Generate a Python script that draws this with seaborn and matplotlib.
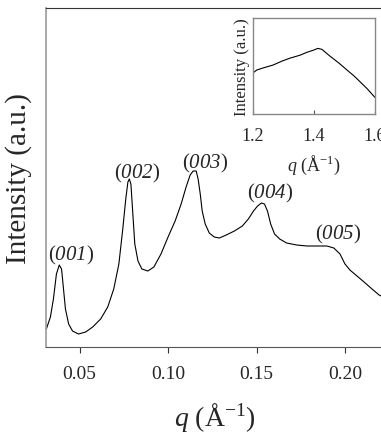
import numpy as np
import pandas as pd
import matplotlib
matplotlib.use("Agg")
import matplotlib.pyplot as plt
import seaborn as sns

# main SAXS pattern (q in 1/Angstrom, intensity in arbitrary units)
q_main = [0.0312, 0.0335, 0.0352, 0.0369, 0.0385, 0.0398, 0.0409, 0.0420, 0.0438,
          0.0460, 0.0494, 0.0534, 0.0574, 0.0619, 0.0659, 0.0693, 0.0722, 0.0744,
          0.0761, 0.0773, 0.0781, 0.0790, 0.0801, 0.0812, 0.0830, 0.0852, 0.0886,
          0.0920, 0.0960, 0.1000, 0.1040, 0.1074, 0.1102, 0.1125, 0.1142, 0.1159,
          0.1170, 0.1182, 0.1193, 0.1210, 0.1233, 0.1261, 0.1290, 0.1329, 0.1375,
          0.1420, 0.1454, 0.1483, 0.1506, 0.1528, 0.1545, 0.1562, 0.1580, 0.1602,
          0.1631, 0.1670, 0.1727, 0.1784, 0.1841, 0.1898, 0.1937, 0.1972, 0.2000,
          0.2028, 0.2068, 0.2108, 0.2153, 0.2193, 0.2216]
i_main = [0.18, 0.30, 0.48, 0.73, 0.82, 0.78, 0.58, 0.38, 0.23,
          0.16, 0.13, 0.15, 0.20, 0.28, 0.40, 0.58, 0.83, 1.18,
          1.48, 1.65, 1.68, 1.63, 1.33, 1.03, 0.86, 0.78, 0.76,
          0.80, 0.93, 1.10, 1.26, 1.43, 1.60, 1.72, 1.76, 1.76,
          1.68, 1.53, 1.36, 1.23, 1.14, 1.10, 1.09, 1.12, 1.16,
          1.21, 1.28, 1.36, 1.41, 1.44, 1.43, 1.36, 1.23, 1.13,
          1.08, 1.04, 1.02, 1.01, 1.01, 1.01, 0.99, 0.93, 0.83,
          0.77, 0.71, 0.65, 0.58, 0.52, 0.50]

# peak labels
peak_names = ["001", "002", "003", "004", "005"]
peak_q = [0.0451, 0.0825, 0.1209, 0.1577, 0.1962]
peak_i = [0.93, 1.75, 1.85, 1.55, 1.14]

# wide-angle inset
q_inset = [1.200, 1.213, 1.233, 1.266, 1.295, 1.321, 1.354, 1.377, 1.397,
           1.413, 1.426, 1.453, 1.482, 1.508, 1.531, 1.551, 1.574, 1.600]
i_inset = [42, 45, 47, 50, 54, 57, 60, 63, 65,
           67, 66, 59, 52, 45, 39, 33, 26, 17]

sns.set_style("ticks")
plt.rcParams["font.family"] = ["Liberation Serif", "DejaVu Serif"]
plt.rcParams["mathtext.fontset"] = "custom"
plt.rcParams["mathtext.rm"] = "Liberation Serif"
plt.rcParams["mathtext.it"] = "Liberation Serif:italic"
# 'sf' slot used for italic digits (mathtext forces digits in \mathit upright)
plt.rcParams["mathtext.sf"] = "Liberation Serif:italic"

fig = plt.figure(figsize=(3.81, 4.35), dpi=100)
ax = fig.add_axes([0.1207, 0.2, 0.885, 0.7793])

main_df = pd.DataFrame({"q": q_main, "I": i_main})
sns.lineplot(data=main_df, x="q", y="I", ax=ax, color="black", lw=0.8)
ax.set_xlim(0.031, 0.2216)
ax.set_ylim(0, 3.39)
ax.set_xticks([0.05, 0.10, 0.15, 0.20])
ax.set_xticklabels(["0.05", "0.10", "0.15", "0.20"])
ax.set_yticks([])
ax.tick_params(axis="x", direction="out", length=4, width=0.8, labelsize=14, pad=9, color="#333333")
ax.spines["right"].set_visible(False)
ax.spines["top"].set_color("#333333")
ax.spines["bottom"].set_color("#555555")
ax.spines["left"].set_color("#999999")
ax.spines["left"].set_linewidth(1.2)
ax.set_xlabel(r"$q$ (Å$^{-1}$)", fontsize=20, labelpad=13)
ax.set_ylabel("Intensity (a.u.)", fontsize=21, labelpad=10)

for name, x, y in zip(peak_names, peak_q, peak_i):
    ax.text(x, y, rf"$(\mathsf{{{name}}})$", fontsize=15, ha="center", va="center")

ins = fig.add_axes([0.664, 0.7356, 0.320, 0.2207])
inset_df = pd.DataFrame({"q": q_inset, "I": i_inset})
sns.lineplot(data=inset_df, x="q", y="I", ax=ins, color="black", lw=0.8)
ins.set_xlim(1.2, 1.6)
ins.set_ylim(0, 98)
ins.set_xticks([1.2, 1.4, 1.6])
ins.set_xticklabels(["1.2", "1.4", "1.6"])
ins.set_yticks([])
ins.tick_params(axis="x", direction="in", length=3, width=0.8, labelsize=13, pad=9, color="#555555")
for s in ins.spines.values():
    s.set_color("#888888")
    s.set_linewidth(1.0)
ins.set_xlabel(r"$q$ (Å$^{-1}$)", fontsize=13, labelpad=7)
ins.set_ylabel("Intensity (a.u.)", fontsize=12, labelpad=2)

fig.savefig("out.png", dpi=100)
